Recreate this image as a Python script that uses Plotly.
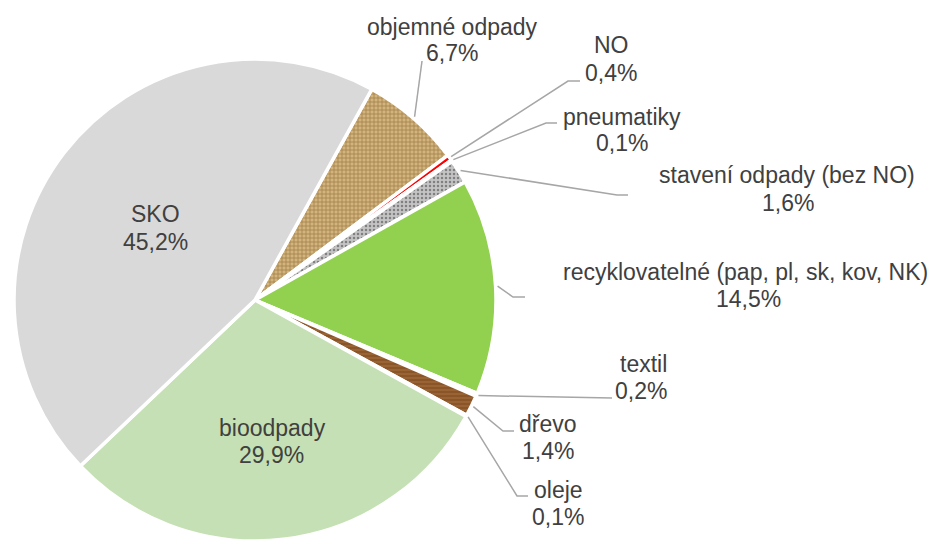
import math
import plotly.graph_objects as go

# ---- data ----
categories = ["objemné odpady", "NO", "pneumatiky", "stavení odpady (bez NO)",
              "recyklovatelné (pap, pl, sk, kov, NK)", "textil", "dřevo", "oleje",
              "bioodpady", "SKO"]
values = [6.7, 0.4, 0.1, 1.6, 14.5, 0.2, 1.4, 0.1, 29.9, 45.2]

# ---- styling ----
bg_colors = ["#D3B47C", "#FF0000", "#8C8C8C", "#C4C4C4", "#92D050",
             "#E8E8E8", "#8A5528", "#BFBFBF", "#C5E0B4", "#D9D9D9"]
pat_shapes = ["+", "", "", ".", "", "", "-", "", "", ""]
pat_fg = ["#9A7744", "#FF0000", "#8C8C8C", "#808080", "#92D050",
          "#E8E8E8", "#A36C3A", "#BFBFBF", "#C5E0B4", "#D9D9D9"]

W, H = 940, 541
CX, CY, R = 255, 300, 241          # pie centre / radius in pixels
ROT = 29                            # start angle of first slice (clockwise from 12 o'clock)

FONT = "Liberation Sans, Arial, sans-serif"
TXT = "#404040"
FS = 23

fig = go.Figure(go.Pie(
    labels=categories, values=values, sort=False, direction="clockwise",
    rotation=ROT, textinfo="none", hoverinfo="label+percent",
    marker=dict(colors=bg_colors, line=dict(color="white", width=3.5),
                pattern=dict(shape=pat_shapes, fgcolor=pat_fg, bgcolor=bg_colors,
                             size=4, solidity=0.3)),
    domain=dict(x=[(CX - R) / W, (CX + R) / W], y=[0, 2 * R / H]),
    showlegend=False,
))

def px(x, y):
    return x / W, 1 - y / H

# label placements (pixel centres of name line and value line), leader route
layout_info = {
    "objemné odpady": dict(name=(452, 27), val=(452, 53), route=[(422, 61)]),
    "NO": dict(name=(611, 45), val=(611, 73), route=[(568, 81), (580, 81)]),
    "pneumatiky": dict(name=(622, 117), val=(622, 143), route=[(546, 123), (557, 123)]),
    "stavení odpady (bez NO)": dict(name=(787, 175), val=(788, 203), route=[(617, 195), (628, 195)]),
    "recyklovatelné (pap, pl, sk, kov, NK)": dict(name=(745, 272), val=(748, 299), route=[(513, 297), (525, 297)]),
    "textil": dict(name=(643, 364), val=(641, 391), route=[(612, 398)]),
    "dřevo": dict(name=(548, 424), val=(548, 451), route=[(503, 431), (514, 431)]),
    "oleje": dict(name=(558, 490), val=(558, 517), route=[(517, 496), (528, 496)]),
    "bioodpady": dict(name=(272, 428), val=(271, 455), route=None),
    "SKO": dict(name=(155, 214), val=(155, 242), route=None),
}

total = sum(values)
ang = ROT
shapes = []
annotations = []
for cat, v in zip(categories, values):
    span = v / total * 360
    mid = math.radians(ang + span / 2)
    ang += span
    info = layout_info[cat]
    pct = f"{v:.1f}".replace(".", ",") + "%"
    for txt, (x, y) in ((cat, info["name"]), (pct, info["val"])):
        ax, ay = px(x, y)
        annotations.append(dict(x=ax, y=ay, xref="paper", yref="paper", text=txt,
                                showarrow=False, xanchor="center", yanchor="middle",
                                font=dict(family=FONT, size=FS, color=TXT)))
    if info["route"]:
        sx = CX + (R + 2) * math.sin(mid)
        sy = CY - (R + 2) * math.cos(mid)
        pts = [(sx, sy)] + info["route"]
        path = "M " + " L ".join(f"{px(x, y)[0]:.5f},{px(x, y)[1]:.5f}" for x, y in pts)
        shapes.append(dict(type="path", path=path, xref="paper", yref="paper",
                           line=dict(color="#A6A6A6", width=1.5)))

fig.update_layout(
    width=W, height=H, margin=dict(l=0, r=0, t=0, b=0),
    paper_bgcolor="white", plot_bgcolor="white",
    shapes=shapes, annotations=annotations,
)

fig.write_html("out.html", config={"displayModeBar": False},
               post_script="document.body.style.margin='0';document.body.style.overflow='hidden';")
